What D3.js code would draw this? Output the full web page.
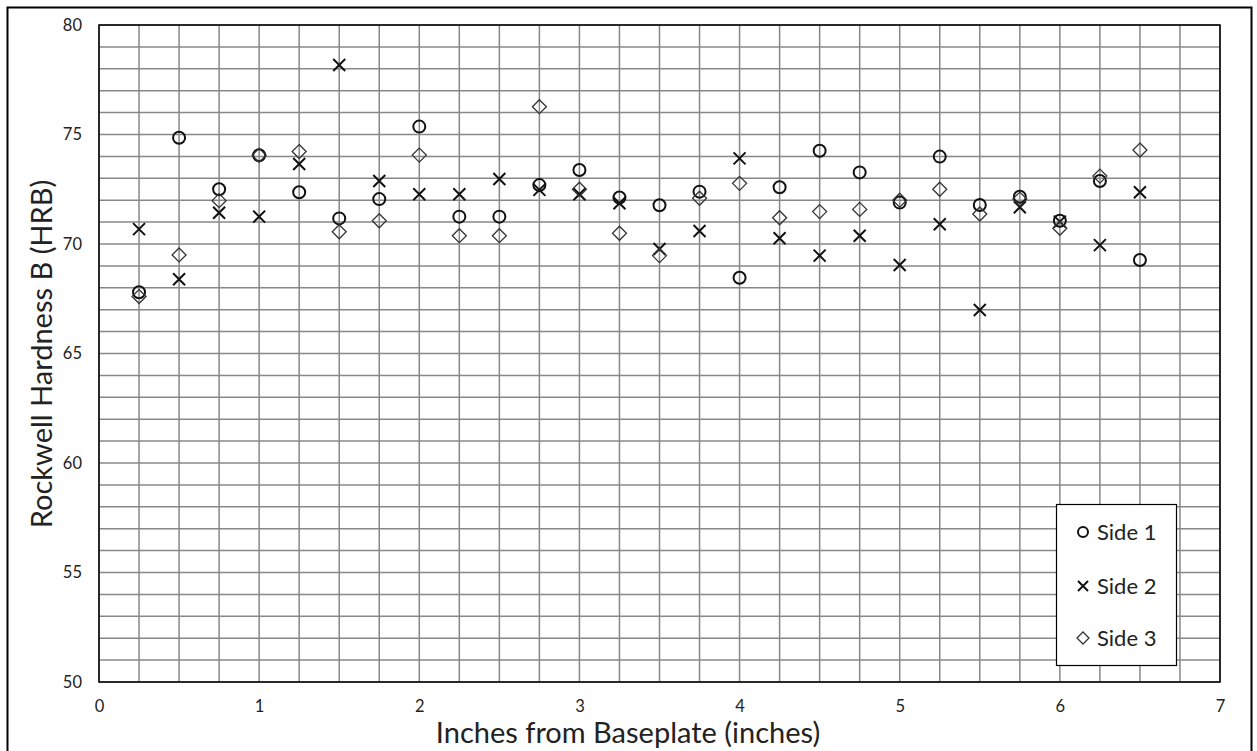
<!DOCTYPE html>
<html><head><meta charset="utf-8">
<script src="https://cdn.jsdelivr.net/npm/d3@7"></script>
<style>body{margin:0;background:#fff}svg{display:block}text{font-family:Lato,"Open Sans",sans-serif;fill:#222}</style>
</head><body>
<svg id="c" width="1257" height="751"></svg>
<script>
const positions = [0.25,0.5,0.75,1,1.25,1.5,1.75,2,2.25,2.5,2.75,3,3.25,3.5,3.75,4,4.25,4.5,4.75,5,5.25,5.5,5.75,6,6.25,6.5];
const side1 = [67.8,74.85,72.5,74.05,72.36,71.17,72.05,75.36,71.25,71.25,72.69,73.38,72.12,71.77,72.39,68.46,72.59,74.26,73.27,71.89,73.99,71.78,72.16,71.06,72.88,69.27];
const side2 = [70.68,68.39,71.43,71.25,73.65,78.17,72.88,72.27,72.27,72.97,72.47,72.27,71.86,69.77,70.59,73.91,70.26,69.47,70.38,69.04,70.9,66.99,71.68,71.02,69.95,72.36];
const side3 = [67.6,69.5,71.98,74.05,74.22,70.56,71.06,74.06,70.38,70.38,76.27,72.5,70.49,69.47,72.09,72.77,71.2,71.48,71.58,72.0,72.5,71.37,72.05,70.72,73.1,74.29];
const seriesNames = ["Side 1","Side 2","Side 3"];
const xTicks = [0,1,2,3,4,5,6,7];
const yTicks = [50,55,60,65,70,75,80];
const xTitle = "Inches from Baseplate (inches)";
const yTitle = "Rockwell Hardness B (HRB)";

const svg = d3.select("#c");
const L=99,R=1220,T=25,B=682;
const x = d3.scaleLinear().domain([0,7]).range([L,R]);
const y = d3.scaleLinear().domain([50,80]).range([B,T]);

// outer border
svg.append("rect").attr("x",7.5).attr("y",7.5).attr("width",1244).attr("height",745).attr("fill","#fff").attr("stroke","#000").attr("stroke-width",2);

// grid
const g = svg.append("g");
g.selectAll(".vg").data(d3.range(0,7.001,0.25)).join("line")
 .attr("x1",d=>x(d)).attr("x2",d=>x(d)).attr("y1",T).attr("y2",B)
 .attr("stroke","#888").attr("stroke-width",1.5);
g.selectAll(".hg").data(d3.range(50,80.001,1)).join("line")
 .attr("x1",L).attr("x2",R).attr("y1",d=>y(d)).attr("y2",d=>y(d))
 .attr("stroke","#888").attr("stroke-width",1.5);
svg.append("rect").attr("x",L).attr("y",T).attr("width",R-L).attr("height",B-T)
 .attr("fill","none").attr("stroke","#000").attr("stroke-width",1.5);

// axes via d3
const xa = svg.append("g").attr("transform",`translate(0,${B})`)
 .call(d3.axisBottom(x).tickValues(xTicks).tickSize(0).tickPadding(18).tickFormat(d3.format("d")));
xa.select(".domain").remove();
xa.selectAll("text").attr("font-size",16.5).style("font-family","Lato,sans-serif").attr("fill","#222");
const ya = svg.append("g").attr("transform",`translate(${L},0)`)
 .call(d3.axisLeft(y).tickValues(yTicks).tickSize(0).tickPadding(17).tickFormat(d3.format("d")));
ya.select(".domain").remove();
ya.selectAll("text").attr("font-size",16.5).style("font-family","Lato,sans-serif").attr("fill","#222");

// titles
svg.append("text").attr("x",628).attr("y",743).attr("text-anchor","middle").attr("font-size",29).text(xTitle);
svg.append("text").attr("transform","translate(52,354) rotate(-90)").attr("text-anchor","middle").attr("font-size",29).text(yTitle);

// markers
function circ(sel){ sel.append("circle").attr("r",6).attr("fill","none").attr("stroke","#111").attr("stroke-width",2); }
function cross(sel){ sel.append("path").attr("d","M-6,-6L6,6M-6,6L6,-6").attr("fill","none").attr("stroke","#111").attr("stroke-width",2); }
function diam(sel){ sel.append("path").attr("d","M0,-7L7,0L0,7L-7,0Z").attr("fill","none").attr("stroke","#333").attr("stroke-width",1.3); }
const drawers=[circ,cross,diam];
const data=[side1,side2,side3];
[0,1,2].forEach(i=>{
  const pts = svg.append("g").selectAll("g").data(positions.map((p,j)=>[p,data[i][j]])).join("g")
   .attr("transform",d=>`translate(${x(d[0])},${y(d[1])})`);
  drawers[i](pts);
});

// legend
const lg = svg.append("g");
lg.append("rect").attr("x",1056.5).attr("y",504.5).attr("width",120).attr("height",161).attr("fill","#fff").attr("stroke","#000").attr("stroke-width",1.2);
[532,586,638].forEach((yy,i)=>{
  const m = lg.append("g").attr("transform",`translate(1083,${yy})`);
  if(i===0) m.append("circle").attr("r",5).attr("fill","none").attr("stroke","#111").attr("stroke-width",2);
  if(i===1) m.append("path").attr("d","M-5,-5L5,5M-5,5L5,-5").attr("stroke","#111").attr("stroke-width",2);
  if(i===2) m.append("path").attr("d","M0,-6L6,0L0,6L-6,0Z").attr("fill","none").attr("stroke","#333").attr("stroke-width",1.3);
  lg.append("text").attr("x",1097).attr("y",yy+8).attr("font-size",22).text(seriesNames[i]);
});
</script>
</body></html>
